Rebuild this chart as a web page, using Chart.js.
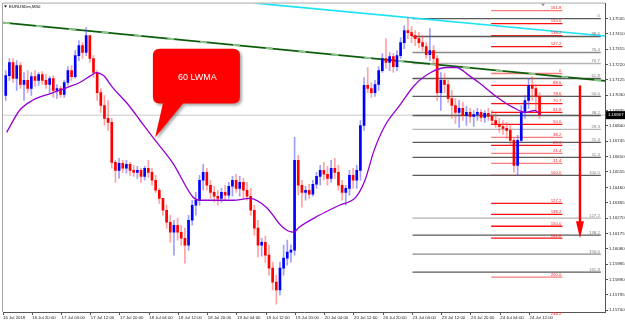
<!DOCTYPE html>
<html>
<head>
<meta charset="utf-8">
<script src="https://cdn.jsdelivr.net/npm/chart.js@4.4.1/dist/chart.umd.min.js"></script>
<style>
  html, body { margin: 0; padding: 0; background: #fff; }
  #wrap { width: 625px; height: 323px; }
</style>
</head>
<body>
<div id="wrap"><canvas id="priceChart" width="625" height="323" style="width:625px;height:323px"></canvas></div>
<script>
// EURUSDm M30, hourly candles
const firstOpen = 1.17029;

const highs = [
  1.17183, 1.17258, 1.17258, 1.17245, 1.17233, 1.17171, 1.17183, 1.17171, 1.17183, 1.17171,
  1.17177, 1.17159, 1.17146, 1.17152, 1.17097, 1.17085, 1.17122, 1.17208, 1.17214, 1.17307,
  1.17369, 1.17356, 1.17449, 1.17400, 1.17276, 1.17183, 1.17072, 1.17029, 1.16998, 1.16887,
  1.16627, 1.16640, 1.16627, 1.16627, 1.16615, 1.16596, 1.16590, 1.16578, 1.16590, 1.16627,
  1.16578, 1.16534, 1.16454, 1.16392, 1.16349, 1.16287, 1.16256, 1.16269, 1.16225, 1.16207,
  1.16287, 1.16380, 1.16429, 1.16534, 1.16602, 1.16578, 1.16504, 1.16467, 1.16442, 1.16454,
  1.16473, 1.16491, 1.16528, 1.16541, 1.16528, 1.16516, 1.16491, 1.16454, 1.16349, 1.16256,
  1.16145, 1.16158, 1.16102, 1.15997, 1.15916, 1.15997, 1.16102, 1.16133, 1.16102, 1.16769,
  1.16658, 1.16504, 1.16467, 1.16479, 1.16504, 1.16553, 1.16596, 1.16615, 1.16590, 1.16627,
  1.16640, 1.16596, 1.16504, 1.16473, 1.16565, 1.16578, 1.16596, 1.16874, 1.17140, 1.17202,
  1.17109, 1.17122, 1.17208, 1.17288, 1.17381, 1.17295, 1.17288, 1.17307, 1.17387, 1.17461,
  1.17511, 1.17455, 1.17431, 1.17418, 1.17400, 1.17356, 1.17443, 1.17338, 1.17276, 1.17171,
  1.17165, 1.17122, 1.17060, 1.17010, 1.16998, 1.16986, 1.16961, 1.16949, 1.16936, 1.16949,
  1.16942, 1.16936, 1.16949, 1.16936, 1.16918, 1.16887, 1.16874, 1.16862, 1.16843, 1.16763,
  1.16782, 1.16967, 1.17029, 1.17134, 1.17146, 1.17097, 1.17047
];

const lows = [
  1.16998, 1.17122, 1.17109, 1.17060, 1.17072, 1.16998, 1.17047, 1.17029, 1.17085, 1.17091,
  1.17097, 1.17072, 1.17047, 1.17017, 1.17010, 1.17017, 1.17017, 1.17091, 1.17122, 1.17134,
  1.17245, 1.17258, 1.17276, 1.17233, 1.17140, 1.16998, 1.16924, 1.16843, 1.16813, 1.16578,
  1.16491, 1.16516, 1.16553, 1.16547, 1.16534, 1.16528, 1.16516, 1.16491, 1.16504, 1.16522,
  1.16473, 1.16429, 1.16361, 1.16287, 1.16207, 1.16120, 1.16040, 1.16133, 1.16102, 1.15991,
  1.16071, 1.16225, 1.16287, 1.16349, 1.16442, 1.16442, 1.16392, 1.16368, 1.16349, 1.16368,
  1.16380, 1.16392, 1.16405, 1.16429, 1.16405, 1.16392, 1.16380, 1.16287, 1.16164, 1.16028,
  1.16034, 1.15997, 1.15916, 1.15824, 1.15737, 1.15793, 1.15916, 1.15978, 1.15997, 1.16040,
  1.16411, 1.16337, 1.16380, 1.16392, 1.16405, 1.16454, 1.16473, 1.16504, 1.16473, 1.16491,
  1.16516, 1.16442, 1.16380, 1.16349, 1.16411, 1.16454, 1.16454, 1.16504, 1.16813, 1.17047,
  1.17017, 1.17023, 1.17060, 1.17171, 1.17196, 1.17183, 1.17171, 1.17183, 1.17258, 1.17319,
  1.17381, 1.17356, 1.17338, 1.17326, 1.17307, 1.17258, 1.17245, 1.17227, 1.16998, 1.16936,
  1.17047, 1.16986, 1.16887, 1.16856, 1.16831, 1.16874, 1.16843, 1.16862, 1.16837, 1.16874,
  1.16868, 1.16862, 1.16874, 1.16850, 1.16831, 1.16800, 1.16788, 1.16763, 1.16720, 1.16553,
  1.16534, 1.16738, 1.16887, 1.16949, 1.16998, 1.16936, 1.16887
];

const closes = [
  1.17152, 1.17233, 1.17134, 1.17214, 1.17097, 1.17122, 1.17072, 1.17146, 1.17122, 1.17159,
  1.17122, 1.17097, 1.17134, 1.17060, 1.17072, 1.17035, 1.17109, 1.17183, 1.17146, 1.17276,
  1.17338, 1.17295, 1.17400, 1.17258, 1.17171, 1.17047, 1.16967, 1.16887, 1.16862, 1.16615,
  1.16565, 1.16609, 1.16578, 1.16602, 1.16565, 1.16553, 1.16565, 1.16528, 1.16578, 1.16553,
  1.16504, 1.16442, 1.16392, 1.16318, 1.16244, 1.16182, 1.16225, 1.16182, 1.16145, 1.16102,
  1.16256, 1.16349, 1.16380, 1.16504, 1.16553, 1.16473, 1.16429, 1.16405, 1.16392, 1.16429,
  1.16411, 1.16467, 1.16504, 1.16454, 1.16491, 1.16442, 1.16405, 1.16318, 1.16207, 1.16102,
  1.16120, 1.16040, 1.15960, 1.15873, 1.15824, 1.15960, 1.16022, 1.16059, 1.16071, 1.16627,
  1.16473, 1.16429, 1.16442, 1.16417, 1.16479, 1.16528, 1.16565, 1.16541, 1.16516, 1.16578,
  1.16553, 1.16473, 1.16429, 1.16454, 1.16534, 1.16504, 1.16565, 1.16843, 1.17091, 1.17072,
  1.17047, 1.17097, 1.17183, 1.17258, 1.17233, 1.17270, 1.17208, 1.17276, 1.17356, 1.17431,
  1.17418, 1.17400, 1.17381, 1.17356, 1.17332, 1.17282, 1.17307, 1.17258, 1.17047, 1.17122,
  1.17097, 1.17010, 1.16967, 1.16924, 1.16949, 1.16905, 1.16924, 1.16899, 1.16911, 1.16924,
  1.16893, 1.16918, 1.16899, 1.16874, 1.16850, 1.16837, 1.16825, 1.16813, 1.16751, 1.16596,
  1.16751, 1.16924, 1.16998, 1.17091, 1.17072, 1.17023, 1.16907
];

// 60 LWMA, read at points along the curve (x = M30 bar index)
const maBars = [2, 9, 16, 26, 35, 42, 48, 51, 55, 60, 68, 75, 82, 93, 104, 108, 126, 135, 144, 153,
  159, 162, 173, 184, 193, 198, 203, 209, 217, 225, 234, 243, 248, 255, 261, 269, 279, 286, 291, 294];
const maValues = [1.16800, 1.16936, 1.16998, 1.17041, 1.17078, 1.17109, 1.17152, 1.17171, 1.17152, 1.17078,
  1.16979, 1.16874, 1.16769, 1.16609, 1.16399, 1.16380, 1.16380, 1.16392, 1.16337, 1.16213,
  1.16182, 1.16213, 1.16287, 1.16349, 1.16399, 1.16504, 1.16689, 1.16843, 1.16967, 1.17091,
  1.17171, 1.17202, 1.17202, 1.17152, 1.17103, 1.17029, 1.16955, 1.16924, 1.16936, 1.16911];

const timeLabels = ["16 Jul 2018", "16 Jul 20:00", "17 Jul 04:00", "17 Jul 12:00", "17 Jul 20:00",
  "18 Jul 04:00", "18 Jul 12:00", "18 Jul 20:00", "19 Jul 04:00", "19 Jul 12:00", "19 Jul 20:00",
  "20 Jul 04:00", "20 Jul 12:00", "20 Jul 20:00", "23 Jul 04:00", "23 Jul 12:00", "23 Jul 20:00",
  "24 Jul 04:00", "24 Jul 12:00"];

const priceTicks = [1.15700, 1.15795, 1.15890, 1.15985, 1.16080, 1.16175, 1.16270, 1.16365, 1.16460, 1.16555,
  1.16650, 1.16745, 1.16840, 1.16935, 1.17030, 1.17125, 1.17220, 1.17315, 1.17410, 1.17505];

const bidPrice = 1.16907;

// trend lines: [start bar, end bar], [start price, end price]
const greenBars = [0, 329.3];
const greenPrices = [1.17480, 1.17119];
const cyanBars = [137.9, 329.3];
const cyanPrices = [1.17601, 1.17397];

// fibo retracements
const grayFibLevels = [1.17505, 1.17394, 1.17295, 1.17227, 1.17134, 1.17023, 1.16905, 1.16819, 1.16738,
  1.16646, 1.16534, 1.16269, 1.16164, 1.16046, 1.15935];
const grayFibLabels = ["0", "88.6", "76.4", "70.7", "61.8", "50.0", "38.2", "29.3", "21.4", "11.4",
  "100.0", "127.2", "138.2", "150.0", "161.8"];
const grayFibShade = [0, 0, 1, 2, 0, 0, 0, 2, 0, 0, 0, 2, 0, 1, 0];

const redFibLevels = [1.17554, 1.17474, 1.17400, 1.17332, 1.17165, 1.17091, 1.17023, 1.16979, 1.16924,
  1.16850, 1.16769, 1.16720, 1.16670, 1.16609, 1.16534, 1.16361, 1.16293, 1.16219, 1.16145, 1.15904, 1.15663];
const redFibLabels = ["161.8", "150.0", "138.2", "127.2", "0", "88.6", "78.6", "70.7", "61.8", "50.0",
  "38.2", "29.3", "21.4", "11.4", "100.0", "127.2", "138.2", "150.0", "161.8", "200.0", "238.2"];
const redFibLight = [1, 0, 0, 0, 1, 0, 0, 0, 0, 0, 1, 0, 1, 1, 0, 0, 0, 0, 0, 1, 1];

const grayFibSpan = [224, 327];
const redFibSpan = [267, 306];

const arrowBar = 315.6;
const arrowFrom = 1.17091;
const arrowTo = 1.16145;

// ---- build candles ----
const upBody = [], downBody = [], upWick = [], downWick = [];
closes.forEach(function (c, i) {
  const bar = 1.5 + 2 * i;
  const o = i === 0 ? firstOpen : closes[i - 1];
  const hi = Math.max(highs[i], o, c);
  const lo = Math.min(lows[i], o, c);
  if (c >= o) {
    upBody.push({ x: bar, y: [o, c] });
    upWick.push({ x: bar, y: [lo, hi] });
  } else {
    downBody.push({ x: bar, y: [o, c] });
    downWick.push({ x: bar, y: [lo, hi] });
  }
});

const tinyFont = { family: "Liberation Sans", size: 4.3 };
const shadeColors = ["#5a5a5a", "#8a8a8a", "#b4b4b4"];

function hLine(x0, x1, price, color, width, order) {
  return {
    type: "line",
    data: [{ x: x0, y: price }, { x: x1, y: price }],
    borderColor: color,
    borderWidth: width,
    pointRadius: 0,
    order: order,
  };
}

const datasets = [
  {
    type: "line",
    label: "60 LWMA",
    data: maBars.map((b, i) => ({ x: b, y: maValues[i] })),
    borderColor: "#9400d3",
    borderWidth: 1.3,
    pointRadius: 0,
    cubicInterpolationMode: "monotone",
    order: 0,
  },
  { type: "bar", data: upBody, backgroundColor: "#0000ff", barThickness: 2, grouped: false, minBarLength: 1, order: 1 },
  { type: "bar", data: downBody, backgroundColor: "#ff0000", barThickness: 2, grouped: false, minBarLength: 1, order: 1 },
  { type: "bar", data: upWick, backgroundColor: "rgba(80,80,255,0.55)", barThickness: 1, grouped: false, order: 2 },
  { type: "bar", data: downWick, backgroundColor: "rgba(255,70,70,0.5)", barThickness: 1, grouped: false, order: 2 },
  {
    type: "line",
    data: [{ x: greenBars[0], y: greenPrices[0] }, { x: greenBars[1], y: greenPrices[1] }],
    borderColor: "#8fc48f", borderWidth: 2, borderDash: [7, 26], pointRadius: 0, order: 3,
  },
  {
    type: "line",
    data: [{ x: greenBars[0], y: greenPrices[0] }, { x: greenBars[1], y: greenPrices[1] }],
    borderColor: "#0b5d0b", borderWidth: 1.6, pointRadius: 0, order: 4,
  },
  {
    type: "line",
    data: [{ x: cyanBars[0], y: cyanPrices[0] }, { x: cyanBars[1], y: cyanPrices[1] }],
    borderColor: "#19e3f5", borderWidth: 1.6, pointRadius: 0, order: 4,
  },
];

grayFibLevels.forEach(function (p, i) {
  datasets.push(hLine(grayFibSpan[0], grayFibSpan[1], p, shadeColors[grayFibShade[i]], 1.3, 5));
});
redFibLevels.forEach(function (p, i) {
  datasets.push(hLine(redFibSpan[0], redFibSpan[1], p, redFibLight[i] ? "#ff7a7a" : "#ff1010", 1.3, 5));
});
datasets.push(hLine(0, 329.3, bidPrice, "#c8c8c8", 1, 6));

// ---- drawings on top: labels, arrow, callout, price box ----
const overlay = {
  id: "overlay",
  afterDraw: function (chart) {
    const c = chart.ctx;
    const xs = chart.scales.x, ys = chart.scales.y;
    const area = chart.chartArea;
    c.save();

    // frame
    c.strokeStyle = "#a8a8a8";
    c.lineWidth = 1;
    c.beginPath();
    c.moveTo(area.left - 0.5, area.bottom);
    c.lineTo(area.left - 0.5, area.top - 0.5);
    c.lineTo(area.right, area.top - 0.5);
    c.stroke();

    // title
    c.fillStyle = "#000";
    c.font = "4.3px 'Liberation Sans'";
    c.textBaseline = "middle";
    c.textAlign = "left";
    c.beginPath();
    c.moveTo(area.left + 1, area.top + 2);
    c.lineTo(area.left + 4, area.top + 2);
    c.lineTo(area.left + 2.5, area.top + 4);
    c.fill();
    c.fillText("EURUSDm,M30", area.left + 6, area.top + 3);

    // chart shift marker
    c.fillStyle = "#9a9a9a";
    const mx = xs.getPixelForValue(295.4);
    c.beginPath();
    c.moveTo(mx - 2, area.top);
    c.lineTo(mx + 2, area.top);
    c.lineTo(mx, area.top + 3);
    c.fill();

    // fibo labels
    c.textBaseline = "bottom";
    c.textAlign = "right";
    c.fillStyle = "#777";
    grayFibLevels.forEach(function (p, i) {
      c.fillText(grayFibLabels[i], xs.getPixelForValue(grayFibSpan[1]) - 1, ys.getPixelForValue(p) - 0.5);
    });
    c.fillStyle = "#ff2020";
    redFibLevels.forEach(function (p, i) {
      c.fillText(redFibLabels[i], xs.getPixelForValue(redFibSpan[1]) - 1, ys.getPixelForValue(p) - 0.5);
    });

    // red arrow
    const ax = xs.getPixelForValue(arrowBar);
    const ay0 = ys.getPixelForValue(arrowFrom);
    const ay1 = ys.getPixelForValue(arrowTo);
    c.strokeStyle = "#ff0000";
    c.fillStyle = "#ff0000";
    c.lineWidth = 2.4;
    c.beginPath();
    c.moveTo(ax, ay0);
    c.lineTo(ax, ay1 - 14);
    c.stroke();
    c.beginPath();
    c.moveTo(ax - 4, ay1 - 17);
    c.lineTo(ax + 4, ay1 - 17);
    c.lineTo(ax, ay1);
    c.closePath();
    c.fill();

    // callout "60 LWMA"
    const bx0 = xs.getPixelForValue(82), bx1 = xs.getPixelForValue(129.6);
    const by0 = ys.getPixelForValue(1.17319), by1 = ys.getPixelForValue(1.16979);
    const tipX = xs.getPixelForValue(83.2), tipY = ys.getPixelForValue(1.16769);
    const t0 = xs.getPixelForValue(87.5), t1 = xs.getPixelForValue(98.5);
    const r = 7;
    c.shadowColor = "rgba(0,0,0,0.35)";
    c.shadowBlur = 3;
    c.shadowOffsetX = 2;
    c.shadowOffsetY = 2;
    c.fillStyle = "#ff0000";
    c.beginPath();
    c.moveTo(bx0 + r, by0);
    c.lineTo(bx1 - r, by0);
    c.quadraticCurveTo(bx1, by0, bx1, by0 + r);
    c.lineTo(bx1, by1 - r);
    c.quadraticCurveTo(bx1, by1, bx1 - r, by1);
    c.lineTo(t1, by1);
    c.lineTo(tipX, tipY);
    c.lineTo(t0, by1);
    c.lineTo(bx0 + r, by1);
    c.quadraticCurveTo(bx0, by1, bx0, by1 - r);
    c.lineTo(bx0, by0 + r);
    c.quadraticCurveTo(bx0, by0, bx0 + r, by0);
    c.closePath();
    c.fill();
    c.shadowColor = "transparent";
    c.fillStyle = "#ffffff";
    c.font = "9px 'Liberation Sans'";
    c.textAlign = "center";
    c.textBaseline = "middle";
    c.fillText("60 LWMA", (bx0 + bx1) / 2 + 1, (by0 + by1) / 2 + 1);

    // bid price box on the axis
    const py = ys.getPixelForValue(bidPrice);
    c.fillStyle = "#000";
    c.fillRect(area.right + 1, py - 4, 19, 8);
    c.fillStyle = "#fff";
    c.font = "4.3px 'Liberation Sans'";
    c.textAlign = "left";
    c.fillText(bidPrice.toFixed(5), area.right + 3, py);

    c.restore();
  },
};

const ctx = document.getElementById("priceChart").getContext("2d");
const priceChart = new Chart(ctx, {
  type: "bar",
  data: { datasets: datasets },
  options: {
    responsive: false,
    animation: false,
    events: [],
    layout: { padding: { left: 3, top: 3, right: 0, bottom: 0 } },
    plugins: { legend: { display: false }, tooltip: { enabled: false } },
    scales: {
      x: {
        type: "linear",
        min: 0,
        max: 329.3,
        offset: false,
        afterBuildTicks: function (s) {
          s.ticks = timeLabels.map((l, i) => ({ value: i * 16 }));
        },
        afterFit: function (s) { s.height = 11; },
        ticks: {
          autoSkip: false,
          maxRotation: 0,
          align: "start",
          padding: 0,
          font: tinyFont,
          color: "#222",
          callback: function (v, i) { return timeLabels[i]; },
        },
        grid: { drawOnChartArea: false, offset: false, tickLength: 3, color: "#555" },
        border: { display: true, color: "#555" },
      },
      y: {
        type: "linear",
        position: "right",
        min: 1.15688,
        max: 1.17598,
        afterBuildTicks: function (s) {
          s.ticks = priceTicks.map((v) => ({ value: v }));
        },
        afterFit: function (s) { s.width = 20; },
        ticks: {
          padding: 1,
          font: tinyFont,
          color: "#222",
          callback: function (v) { return Number(v).toFixed(5); },
        },
        grid: { drawOnChartArea: false, tickLength: 3, color: "#555" },
        border: { display: true, color: "#555" },
      },
    },
  },
  plugins: [overlay],
});
</script>
</body>
</html>
